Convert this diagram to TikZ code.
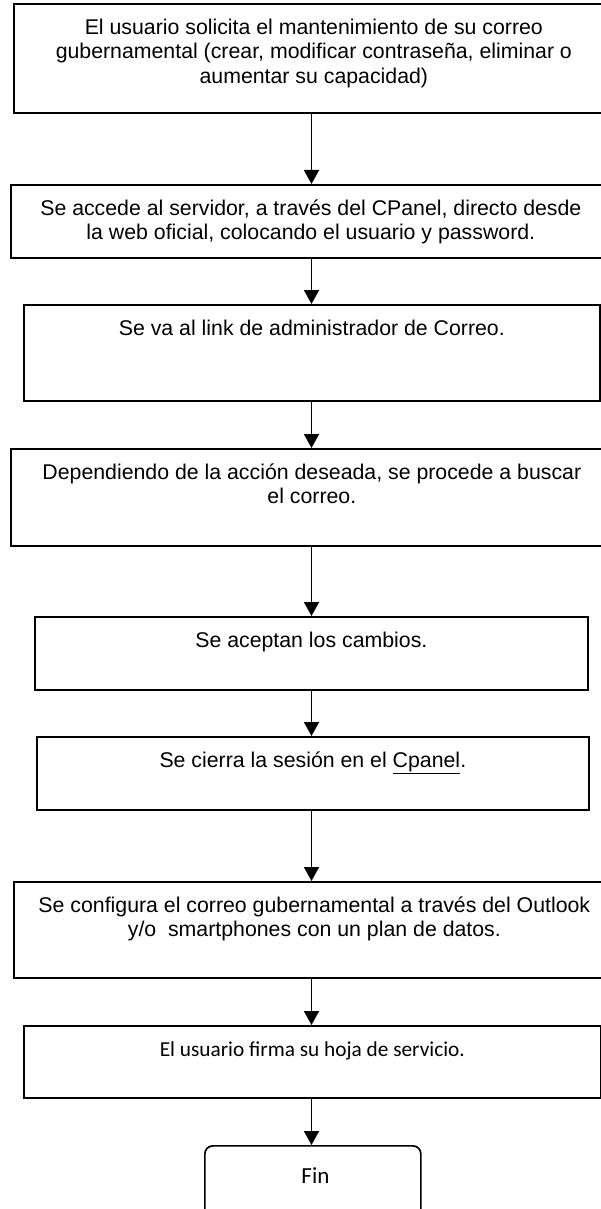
\documentclass[tikz,border=0pt]{standalone}
\usepackage{fontspec}
\setmainfont{Liberation Sans}
\newfontfamily\calibrifont{Carlito}
\usetikzlibrary{arrows.meta}
\tikzset{
    step-box/.style = {draw=black, line width=1.7pt, rectangle, inner sep=0pt, anchor=north west},
    end-box/.style = {step-box, rounded corners=8pt},
    flow-arrow/.style = {draw=black, line width=1.7pt, -{Triangle[width=15pt,length=14pt]}},
}
\newcommand{\stepfont}{\fontsize{21.3}{24.5}\selectfont}
\newcommand{\steptop}{\rule{0pt}{30.5pt}}

\begin{document}
\begin{tikzpicture}[x=1pt, y=-1pt]
\useasboundingbox (0,0) rectangle (601,1209);
\clip (0,0) rectangle (601,1209);
\coordinate (axis) at (311.5,0);
\node [step-box] (solicitud) at (13,3) {\begin{minipage}[t][109pt][t]{600pt}\centering\stepfont\steptop
    El usuario solicita el mantenimiento de su correo\\
    gubernamental (crear, modificar contraseña, eliminar o\\
    aumentar su capacidad)
\end{minipage}};
\node [step-box] (acceso) at (10,184) {\begin{minipage}[t][73pt][t]{600pt}\centering\stepfont\steptop
    Se accede al servidor, a través del CPanel, directo desde\\
    la web oficial, colocando el usuario y password.
\end{minipage}};
\node [step-box] (enlace) at (23,304) {\begin{minipage}[t][96pt][t]{576pt}\centering\stepfont\steptop
    Se va al link de administrador de Correo.
\end{minipage}};
\node [step-box] (busqueda) at (10,448) {\begin{minipage}[t][97pt][t]{602pt}\centering\stepfont\steptop
    Dependiendo de la acción deseada, se procede a buscar\\
    el correo.
\end{minipage}};
\node [step-box] (cambios) at (34,616) {\begin{minipage}[t][73pt][t]{553pt}\centering\stepfont\steptop
    Se aceptan los cambios.
\end{minipage}};
\node [step-box] (cierre) at (36,736) {\begin{minipage}[t][73pt][t]{552pt}\centering\stepfont\steptop
    Se cierra la sesión en el \underline{Cpanel}.
\end{minipage}};
\node [step-box] (configura) at (13,881) {\begin{minipage}[t][96pt][t]{601pt}\centering\stepfont\steptop
    Se configura el correo gubernamental a través del Outlook\\
    y/o\ \ smartphones con un plan de datos.
\end{minipage}};
\node [step-box] (firma) at (23,1025) {\begin{minipage}[t][72pt][t]{577pt}\centering\calibrifont\stepfont\steptop
    El usuario firma su hoja de servicio.
\end{minipage}};
\node [end-box] (fin) at (204,1145) {\begin{minipage}[t][95pt][t]{216pt}\centering\calibrifont\fontsize{23}{26}\selectfont\rule{0pt}{37.5pt}
    Fin
\end{minipage}};
\draw [flow-arrow] (solicitud.south -| axis) -- (acceso.north -| axis);
\draw [flow-arrow] (acceso.south -| axis) -- (enlace.north -| axis);
\draw [flow-arrow] (enlace.south -| axis) -- (busqueda.north -| axis);
\draw [flow-arrow] (busqueda.south -| axis) -- (cambios.north -| axis);
\draw [flow-arrow] (cambios.south -| axis) -- (cierre.north -| axis);
\draw [flow-arrow] (cierre.south -| axis) -- (configura.north -| axis);
\draw [flow-arrow] (configura.south -| axis) -- (firma.north -| axis);
\draw [flow-arrow] (firma.south -| axis) -- (fin.north -| axis);
\end{tikzpicture}
\end{document}
